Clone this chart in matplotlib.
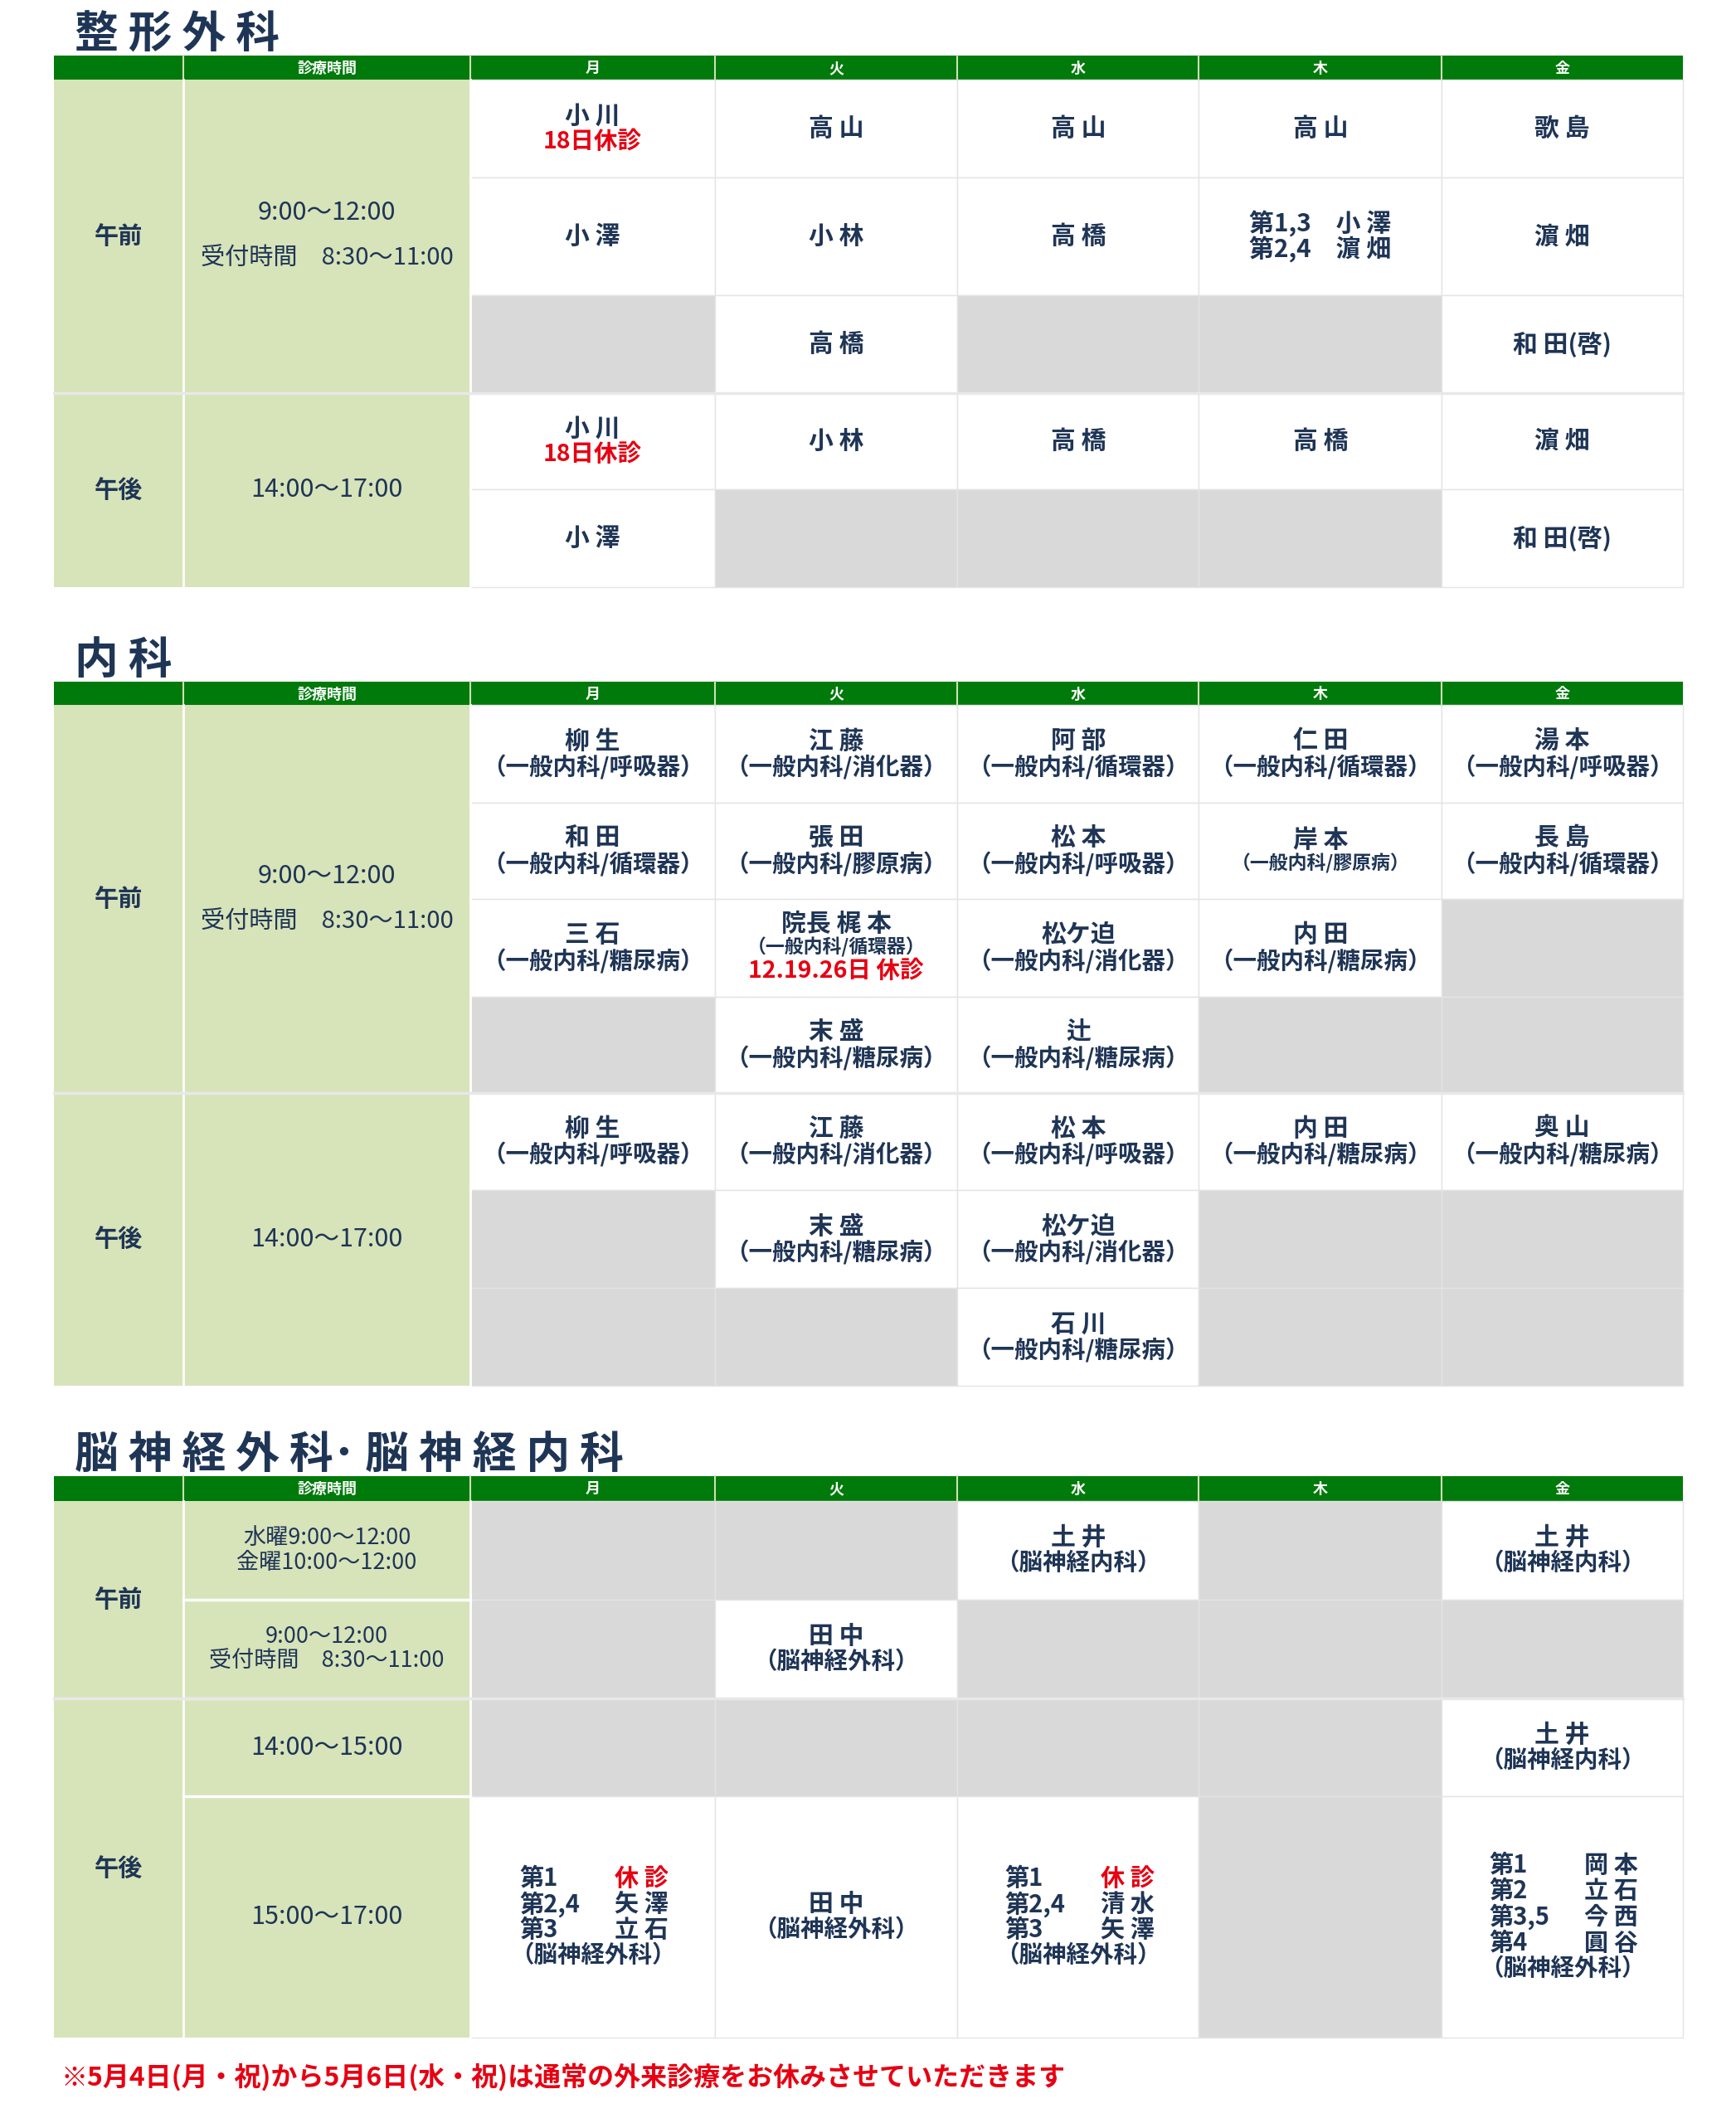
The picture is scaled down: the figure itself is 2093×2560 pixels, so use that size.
import matplotlib
matplotlib.use("Agg")
import matplotlib.pyplot as plt
from matplotlib.patches import Rectangle

plt.rcParams['font.family'] = ['Noto Sans CJK JP', 'DejaVu Sans']

NAVY = '#1f3556'; RED = '#e60012'; GREEN = '#007a0a'; LG = '#d7e3b9'; GRAY = '#d9d9d9'

days = ['月', '火', '水', '木', '金']
header_time = '診療時間'
TIME_AM = ['9:00～12:00', '受付時間　8:30～11:00']
TIME_PM = ['14:00～17:00']

def N(t): return (t, 'n')
def S(t): return (t, 's')
def SS(t): return (t, 'ss')
def R(t): return (t, 'r')

ogawa = [N('小 川'), R('18日休診')]
ortho_am = [
    [ogawa, [N('高 山')], [N('高 山')], [N('高 山')], [N('歌 島')]],
    [[N('小 澤')], [N('小 林')], [N('高 橋')], [N('第1,3　小 澤'), N('第2,4　濵 畑')], [N('濵 畑')]],
    [None, [N('高 橋')], None, None, [N('和 田(啓)')]],
]
ortho_pm = [
    [ogawa, [N('小 林')], [N('高 橋')], [N('高 橋')], [N('濵 畑')]],
    [[N('小 澤')], None, None, None, [N('和 田(啓)')]],
]

def im(name, sub):
    return [N(name), S('（一般内科/' + sub + '）')]

int_am = [
    [im('柳 生', '呼吸器'), im('江 藤', '消化器'), im('阿 部', '循環器'), im('仁 田', '循環器'), im('湯 本', '呼吸器')],
    [im('和 田', '循環器'), im('張 田', '膠原病'), im('松 本', '呼吸器'), [N('岸 本'), SS('（一般内科/膠原病）')], im('長 島', '循環器')],
    [im('三 石', '糖尿病'), [N('院長 梶 本'), SS('（一般内科/循環器）'), R('12.19.26日 休診')], im('松ケ迫', '消化器'), im('内 田', '糖尿病'), None],
    [None, im('末 盛', '糖尿病'), im('辻', '糖尿病'), None, None],
]
int_pm = [
    [im('柳 生', '呼吸器'), im('江 藤', '消化器'), im('松 本', '呼吸器'), im('内 田', '糖尿病'), im('奥 山', '糖尿病')],
    [None, im('末 盛', '糖尿病'), im('松ケ迫', '消化器'), None, None],
    [None, None, im('石 川', '糖尿病'), None, None],
]

doi = [N('土 井'), S('（脳神経内科）')]
tanaka = [N('田 中'), S('（脳神経外科）')]
neuro_times = [['水曜9:00～12:00', '金曜10:00～12:00'], ['9:00～12:00', '受付時間　8:30～11:00'], ['14:00～15:00'], ['15:00～17:00']]
neuro_rows = [
    [None, None, doi, None, doi],
    [None, tanaka, None, None, None],
    [None, None, None, None, doi],
    [[('第1', '休 診', 'r'), ('第2,4', '矢 澤', 'n'), ('第3', '立 石', 'n'), S('（脳神経外科）')],
     tanaka,
     [('第1', '休 診', 'r'), ('第2,4', '清 水', 'n'), ('第3', '矢 澤', 'n'), S('（脳神経外科）')],
     None,
     [('第1', '岡 本', 'n'), ('第2', '立 石', 'n'), ('第3,5', '今 西', 'n'), ('第4', '圓 谷', 'n'), S('（脳神経外科）')]],
]

titles = ['整 形 外 科', '内 科', '脳 神 経 外 科･ 脳 神 経 内 科']
footer = '※5月4日(月・祝)から5月6日(水・祝)は通常の外来診療をお休みさせていただきます'

W, H = 1280, 1566
fig = plt.figure(figsize=(20.93, 25.6), dpi=100)
ax = fig.add_axes([0, 0, 1, 1])
ax.set_xlim(0, W); ax.set_ylim(H, 0); ax.axis('off')

xs = [40, 135, 347, 527, 706, 884, 1063, 1241]
FS = {'n': 21.5, 's': 20.5, 'ss': 16.5, 'r': 20.5}
LH = {'n': 19, 's': 19, 'ss': 16, 'r': 19}

def rect(x0, y0, x1, y1, fc, ec='none', lw=0):
    ax.add_patch(Rectangle((x0, y0), x1 - x0, y1 - y0, facecolor=fc, edgecolor=ec, linewidth=lw))

def draw_lines(cx, cy, lines):
    total = sum(LH[l[-1]] if len(l) == 2 else 19 for l in lines)
    y = cy - total / 2
    for l in lines:
        if len(l) == 2:
            t, st = l
            h = LH[st]
            ax.text(cx, y + h / 2, t, ha='center', va='center', fontsize=FS[st],
                    color=RED if st == 'r' else NAVY, fontweight='bold')
        else:
            a, b, st = l
            h = 19
            ax.text(cx - 54, y + h / 2, a, ha='left', va='center', fontsize=21, color=NAVY, fontweight='bold')
            ax.text(cx + 56, y + h / 2, b, ha='right', va='center', fontsize=21,
                    color=RED if st == 'r' else NAVY, fontweight='bold')
        y += h

def header(y0, y1):
    rect(xs[0], y0, xs[-1], y1, GREEN)
    labels = ['', header_time] + days
    for i, lab in enumerate(labels):
        ax.text((xs[i] + xs[i + 1]) / 2, (y0 + y1) / 2 + 0.5, lab, ha='center', va='center',
                fontsize=13, color='white', fontweight='bold')
    for x in xs[1:-1]:
        ax.plot([x, x], [y0, y1], color='#cfe0b5', lw=1.5)

def cells(rows, ybounds):
    for r, row in enumerate(rows):
        y0, y1 = ybounds[r], ybounds[r + 1]
        for c, cell in enumerate(row):
            x0, x1 = xs[c + 2], xs[c + 3]
            rect(x0, y0, x1, y1, GRAY if cell is None else 'white', ec='#e4e4e4', lw=1)
            if cell is not None:
                draw_lines((x0 + x1) / 2, (y0 + y1) / 2, cell)

def green(x0, x1, y0, y1):
    rect(x0, y0, x1, y1, LG)
    ax.plot([x1, x1], [y0, y1], color='white', lw=2)

def period_time(y0, y1, period, tlines, tcy=None):
    green(xs[0], xs[1], y0, y1)
    green(xs[1], xs[2], y0, y1)
    ax.text((xs[0] + xs[1]) / 2, (y0 + y1) / 2, period, ha='center', va='center', fontsize=21, color=NAVY, fontweight='bold')
    cy = (y0 + y1) / 2 if tcy is None else tcy
    if len(tlines) == 2:
        ax.text((xs[1] + xs[2]) / 2, cy - 17, tlines[0], ha='center', va='center', fontsize=22, color=NAVY)
        ax.text((xs[1] + xs[2]) / 2, cy + 17, tlines[1], ha='center', va='center', fontsize=21, color=NAVY)
    else:
        ax.text((xs[1] + xs[2]) / 2, cy, tlines[0], ha='center', va='center', fontsize=22, color=NAVY)

def sep(y):
    ax.plot([xs[0], xs[-1]], [y, y], color='#e8e8e8', lw=2.5)

# Section 1
ax.text(55, 26, titles[0], ha='left', va='center', fontsize=38, color=NAVY, fontweight='bold')
header(41, 59)
period_time(59, 290, '午前', TIME_AM, tcy=174)
period_time(290, 433, '午後', TIME_PM)
cells(ortho_am, [59, 131, 218, 290])
cells(ortho_pm, [290, 361, 433])
sep(290)

# Section 2
ax.text(55, 487, titles[1], ha='left', va='center', fontsize=38, color=NAVY, fontweight='bold')
header(503, 520)
period_time(520, 806, '午前', TIME_AM, tcy=663)
period_time(806, 1022, '午後', TIME_PM)
cells(int_am, [520, 592, 663, 735, 806])
cells(int_pm, [806, 878, 950, 1022])
sep(806)

# Section 3
ax.text(55, 1073, titles[2], ha='left', va='center', fontsize=38, color=NAVY, fontweight='bold')
header(1089, 1107)
yb = [1107, 1180, 1253, 1325, 1503]
green(xs[0], xs[1], 1107, 1253)
green(xs[0], xs[1], 1253, 1503)
ax.text((xs[0] + xs[1]) / 2, 1180, '午前', ha='center', va='center', fontsize=21, color=NAVY, fontweight='bold')
ax.text((xs[0] + xs[1]) / 2, 1378, '午後', ha='center', va='center', fontsize=21, color=NAVY, fontweight='bold')
for r, tl in enumerate(neuro_times):
    y0, y1 = yb[r], yb[r + 1]
    green(xs[1], xs[2], y0, y1)
    cy = (y0 + y1) / 2
    if len(tl) == 2:
        ax.text((xs[1] + xs[2]) / 2, cy - 9, tl[0], ha='center', va='center', fontsize=19.5, color=NAVY)
        ax.text((xs[1] + xs[2]) / 2, cy + 9, tl[1], ha='center', va='center', fontsize=19.5, color=NAVY)
    else:
        ax.text((xs[1] + xs[2]) / 2, cy, tl[0], ha='center', va='center', fontsize=22, color=NAVY)
    if r > 0:
        ax.plot([xs[1], xs[2]], [y0, y0], color='white', lw=2.5)
cells(neuro_rows, yb)
sep(1253)

ax.text(45, 1532, footer, ha='left', va='center', fontsize=23, color=RED, fontweight='bold')

fig.savefig('out.png', dpi=100, facecolor='white')
